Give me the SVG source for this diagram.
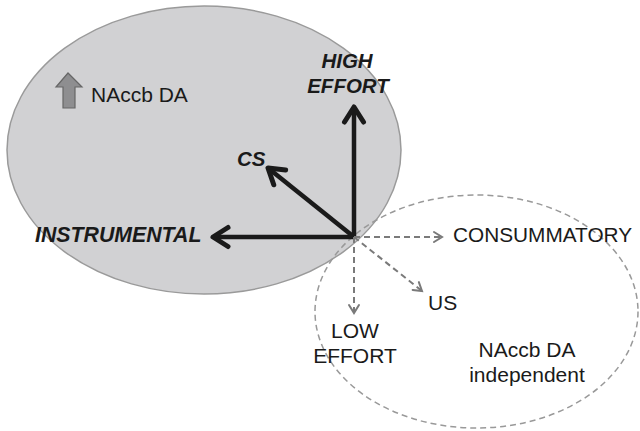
<svg xmlns="http://www.w3.org/2000/svg" width="640" height="431" viewBox="0 0 640 431">
<style>
.t{font-family:"Liberation Sans",Arial,sans-serif;fill:#1a1a1a;font-size:21px}
.b{font-weight:bold;font-style:italic;font-size:20.5px}
.solid{stroke:#1a1a1a;stroke-width:4.5;fill:none}
.dash{stroke:#7a7a7a;stroke-width:2;stroke-dasharray:6 4;fill:none}
</style>
<defs>
<marker id="hs" markerUnits="userSpaceOnUse" markerWidth="40" markerHeight="40" refX="0" refY="0" orient="auto" overflow="visible">
<path d="M-15,-9.5 L0,0 L-15,9.5" fill="none" stroke="#1a1a1a" stroke-width="5" stroke-linecap="round" stroke-linejoin="round"/>
</marker>
<marker id="hd" markerUnits="userSpaceOnUse" markerWidth="20" markerHeight="20" refX="0" refY="0" orient="auto" overflow="visible">
<path d="M-8,-5 L0,0 L-8,5" fill="none" stroke="#7a7a7a" stroke-width="2" stroke-linecap="round"/>
</marker>
</defs>
<g id="dependent-region">
<ellipse cx="204" cy="150" rx="197" ry="144" fill="#d1d1d3" stroke="#9a9a9a" stroke-width="1.5"/>
<path d="M68,73 L56,87 L63,87 L63,108 L75,108 L75,87 L82,87 Z" fill="#8e8e90" stroke="#666" stroke-width="1.2" stroke-linejoin="miter"/>
<text class="t" x="91" y="102">NAccb DA</text>
</g>
<g id="independent-region">
<ellipse cx="476.5" cy="311.5" rx="161.5" ry="116.5" fill="none" stroke="#999" stroke-width="1.5" stroke-dasharray="6 4"/>
<text class="t" x="527" y="357" text-anchor="middle">NAccb DA</text>
<text class="t" x="527" y="382" text-anchor="middle">independent</text>
</g>
<g id="connectors">
<path class="solid" d="M354,237 V107" marker-end="url(#hs)"/>
<path class="solid" d="M354,237 H213" marker-end="url(#hs)"/>
<path class="solid" d="M354,237 L268,168" marker-end="url(#hs)"/>
<path class="dash" d="M354,237 H442" marker-end="url(#hd)"/>
<path class="dash" d="M354,237 L422,291" marker-end="url(#hd)"/>
<path class="dash" d="M354,237 V313" marker-end="url(#hd)"/>
</g>
<g id="high-effort"><text class="t b" x="347" y="68" text-anchor="middle">HIGH</text><text class="t b" x="348" y="93" text-anchor="middle">EFFORT</text></g>
<g id="cs"><text class="t b" x="237" y="166">CS</text></g>
<g id="instrumental"><text class="t b" x="35" y="242" style="font-size:21.3px">INSTRUMENTAL</text></g>
<g id="consummatory"><text class="t" x="453" y="242" style="font-size:20.8px">CONSUMMATORY</text></g>
<g id="us"><text class="t" x="428" y="310">US</text></g>
<g id="low-effort"><text class="t" x="355" y="338" text-anchor="middle">LOW</text><text class="t" x="355" y="363" text-anchor="middle">EFFORT</text></g>
</svg>
